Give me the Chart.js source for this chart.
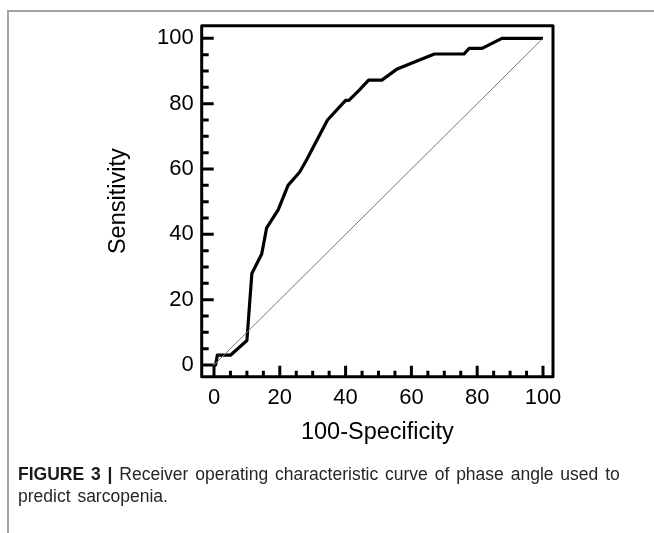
<!DOCTYPE html>
<html>
<head>
<meta charset="utf-8">
<script src="https://cdn.jsdelivr.net/npm/chart.js@4/dist/chart.umd.min.js"></script>
<style>
    html, body { margin: 0; padding: 0; background: #fff; }
    #wrap { position: relative; width: 654px; height: 533px; overflow: hidden; }
    #frame { position: absolute; left: 7px; top: 10px; right: -10px; bottom: -10px; border-left: 2px solid #a3a3a3; border-top: 2px solid #a3a3a3; }
    canvas { position: absolute; left: 0; top: 0; }
    #caption { position: absolute; left: 18px; top: 463px; font: 17.5px "Liberation Sans", Arial, sans-serif; line-height: 22px; color: #262626; word-spacing: 2px; }
    #caption b { color: #1a1a1a; }
</style>
</head>
<body>
<div id="wrap">
    <div id="frame"></div>
    <canvas id="rocChart" width="654" height="533"></canvas>
    <div id="caption"><b>FIGURE 3 |</b> Receiver operating characteristic curve of phase angle used to<br>predict sarcopenia.</div>
</div>
<script>
// ROC curve (100-Specificity, Sensitivity)
const specificity = [0, 0.5, 1, 5, 10, 11.5, 14.5, 16, 19.5, 22.5, 26, 28, 34.5, 40, 41, 44, 47, 51, 55.5, 61.5, 67, 76, 77.5, 81.5, 87.5, 100];
const sensitivity = [0, 0, 3, 3, 7.5, 28, 34, 42, 47.5, 55, 59, 62.5, 75, 81, 81, 84, 87.2, 87.2, 90.5, 93, 95.2, 95.2, 96.9, 96.9, 100, 100];
const refX = [0, 100];
const refY = [0, 100];
const xTicks = [0, 20, 40, 60, 80, 100];
const yTicks = [0, 20, 40, 60, 80, 100];

const font = '"Liberation Sans", Arial, sans-serif';

// inward ticks and the box around the plot
const boxPlugin = {
    id: 'boxPlugin',
    afterDraw(chart) {
        const { ctx, chartArea: a, scales: { x, y } } = chart;
        ctx.save();
        ctx.strokeStyle = '#000';
        ctx.lineWidth = 3;
        ctx.lineCap = 'butt';
        ctx.beginPath();
        for (let v = 0; v <= 100; v += 5) {
            const major = v % 20 === 0;
            const px = x.getPixelForValue(v);
            ctx.moveTo(px, a.bottom);
            ctx.lineTo(px, a.bottom - (major ? 11 : 6));
            const py = y.getPixelForValue(v);
            ctx.moveTo(a.left, py);
            ctx.lineTo(a.left + (major ? 12 : 7), py);
        }
        ctx.stroke();
        ctx.lineJoin = 'round';
        ctx.strokeRect(a.left, a.top, a.right - a.left, a.bottom - a.top);
        ctx.restore();
    }
};

new Chart(document.getElementById('rocChart'), {
    type: 'line',
    data: {
        datasets: [
            {
                data: refX.map((v, i) => ({ x: v, y: refY[i] })),
                borderColor: '#7a7a7a',
                borderWidth: 1,
                pointRadius: 0,
                tension: 0
            },
            {
                data: specificity.map((v, i) => ({ x: v, y: sensitivity[i] })),
                borderColor: '#000',
                borderWidth: 3.2,
                borderJoinStyle: 'round',
                pointRadius: 0,
                tension: 0
            }
        ]
    },
    options: {
        responsive: false,
        animation: false,
        layout: { padding: { left: 0, top: 25.7, right: 101, bottom: 0 } },
        plugins: { legend: { display: false }, tooltip: { enabled: false } },
        scales: {
            x: {
                type: 'linear',
                min: -3.74,
                max: 103.04,
                grid: { display: false, drawTicks: false },
                border: { display: false },
                afterBuildTicks: s => { s.ticks = xTicks.map(v => ({ value: v })); },
                afterFit: s => { s.height = 156.3; },
                ticks: { padding: 8, color: '#000', font: { family: font, size: 22 }, maxRotation: 0 },
                title: { display: true, text: '100-Specificity', color: '#000', font: { family: font, size: 23.5 }, padding: { bottom: 86 } }
            },
            y: {
                type: 'linear',
                min: -3.58,
                max: 103.86,
                grid: { display: false, drawTicks: false },
                border: { display: false },
                afterBuildTicks: s => { s.ticks = yTicks.map(v => ({ value: v })); },
                afterFit: s => { s.width = 201.7; },
                ticks: { padding: 8, color: '#000', font: { family: font, size: 22 } },
                title: { display: true, text: 'Sensitivity', color: '#000', font: { family: font, size: 23.5 }, padding: { top: 104 } }
            }
        }
    },
    plugins: [boxPlugin]
});
</script>
</body>
</html>
